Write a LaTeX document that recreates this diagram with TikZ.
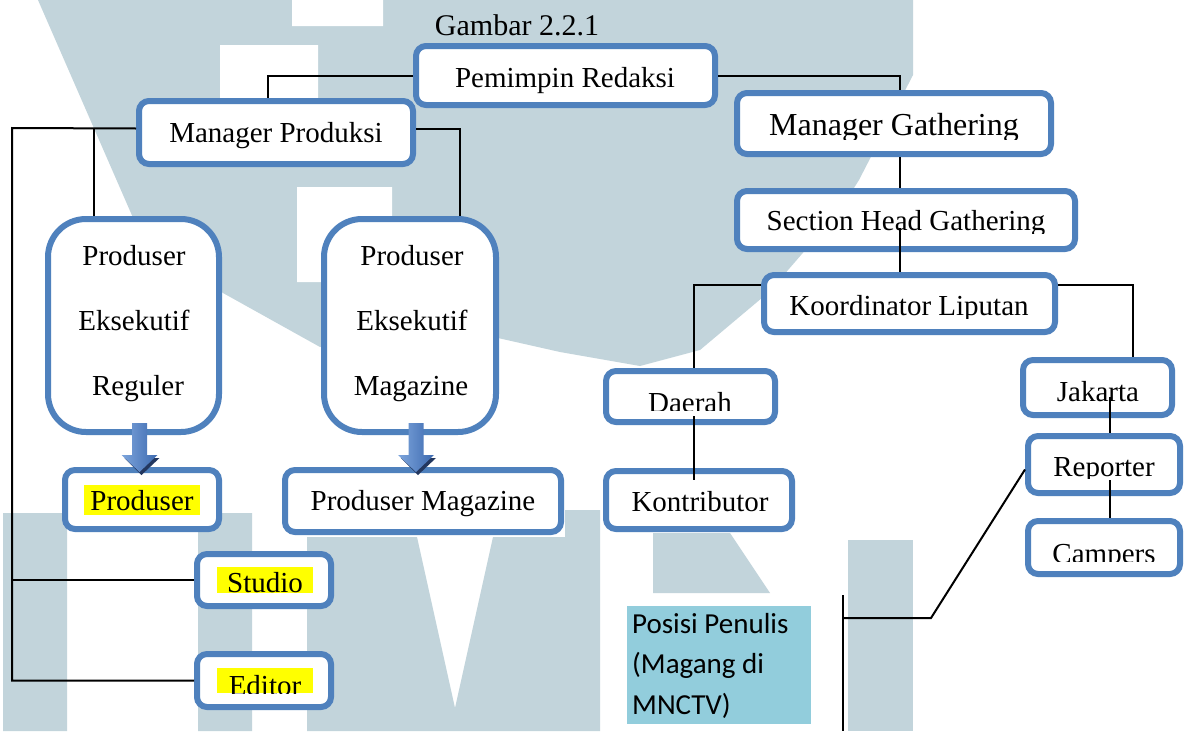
\documentclass[tikz,border=0pt]{standalone}
\usepackage{fontspec}
\setmainfont{Liberation Serif}
\newfontfamily\calibrifont{Carlito}
\usepackage{tikz}
\usetikzlibrary{calc}
\definecolor{BoxBlue}{HTML}{4F81BD}
\definecolor{WaterGray}{RGB}{194,212,219}
\definecolor{PosBlue}{HTML}{92CDDC}
\definecolor{HiYellow}{RGB}{255,255,0}
\definecolor{ArrowLight}{RGB}{125,165,220}
\definecolor{ArrowDark}{RGB}{60,105,175}
\definecolor{ArrowShadow}{RGB}{35,55,95}
\newcommand{\boxfont}{\fontsize{29}{35}\selectfont}
% label cut off below a given y
\newcommand{\cutlabel}[5][]{%
  \begin{scope}
    \clip (0,0) rectangle (1188,#4);
    \node[lbl,#1] (#2) at (#3) {#5};
  \end{scope}}
% shaded block arrow pointing down from a coordinate
\newcommand{\blockdown}[1]{%
  \fill[ArrowShadow] ($(#1)+(-15,35)$) -- ($(#1)+(2,52)$) -- ($(#1)+(20,35)$) -- cycle;
  \shade[left color=ArrowLight,right color=ArrowDark] ($(#1)+(-7.5,0)$) -- ($(#1)+(7.5,0)$)
    -- ($(#1)+(7.5,32)$) -- ($(#1)+(18,32)$) -- ($(#1)+(0,49)$) -- ($(#1)+(-18,32)$)
    -- ($(#1)+(-7.5,32)$) -- cycle;}
\tikzset{
  orgbox/.style={draw=BoxBlue,line width=6pt,fill=white,rounded corners=10pt,inner sep=0pt},
  tallbox/.style={orgbox,rounded corners=38pt},
  lbl/.style={anchor=base,inner sep=0pt,font=\boxfont},
  link/.style={line width=2pt},
}

\begin{document}
\begin{tikzpicture}[x=1pt,y=-1pt]
  \fill[white] (0,0) rectangle (1188,731);
  \useasboundingbox (0,0) rectangle (1188,731);
  % watermark
  \fill[WaterGray] (38,0) -- (913,0) -- (913,75) -- (859,180) -- (840,210) -- (769,292)
    -- (700,350) -- (640,366) -- (560,352) -- (498,338) -- (410,345) -- (320,347)
    -- (223,293) -- (134,220) -- cycle;
  \fill[white] (292,0) rectangle (383,26) (220,45) rectangle (318,120) (297,187) rectangle (392,282);
  \fill[WaterGray] (3,513) rectangle (67,731) (198,513) rectangle (252,731);
  \fill[WaterGray] (307,537) -- (417,537) -- (455,708) -- (493,537) -- (565,537) -- (565,510)
    -- (600,510) -- (600,731) -- (307,731) -- cycle;
  \fill[WaterGray] (653,533) -- (730,533) -- (770,593) -- (653,593) -- cycle;
  \fill[WaterGray] (848,540) rectangle (913,731);

  \node[lbl,font=\fontsize{30}{36}\selectfont] (judul) at (517,35) {Gambar 2.2.1};

  % boxes
  \node[orgbox,minimum width=299pt,minimum height=59pt] (pemimpin) at (565.5,75.5) {};
  \node[orgbox,minimum width=274pt,minimum height=63pt] (mgrprod) at (276,132.5) {};
  \node[orgbox,minimum width=314pt,minimum height=61pt] (mgrgath) at (894,123.5) {};
  \node[orgbox,minimum width=338pt,minimum height=58pt] (sechead) at (906,220) {};
  \node[orgbox,minimum width=291pt,minimum height=57pt] (koord) at (909.5,303.5) {};
  \node[tallbox,minimum width=171pt,minimum height=213pt] (pereg) at (133.5,325.5) {};
  \node[tallbox,minimum width=172pt,minimum height=213pt] (pemag) at (410,325.5) {};
  \node[orgbox,minimum width=154pt,minimum height=59pt] (produser) at (142,499.5) {};
  \node[orgbox,minimum width=276pt,minimum height=62pt] (prodmag) at (423,501) {};
  \node[orgbox,minimum width=169pt,minimum height=51pt] (daerah) at (690.5,396.5) {};
  \node[orgbox,minimum width=186pt,minimum height=58pt] (kontrib) at (699,500) {};
  \node[orgbox,minimum width=149pt,minimum height=55pt] (jakarta) at (1097.5,387.5) {};
  \node[orgbox,minimum width=152pt,minimum height=57pt] (reporter) at (1104,464.5) {};
  \node[orgbox,minimum width=152pt,minimum height=53pt] (campers) at (1104,547.5) {};
  \node[orgbox,minimum width=134pt,minimum height=52pt] (studio) at (264,580) {};
  \node[orgbox,minimum width=134pt,minimum height=53pt] (editor) at (264,680.5) {};
  \node[fill=PosBlue,minimum width=184pt,minimum height=118pt,inner sep=0pt] (posisi) at (719,665) {};

  % highlights
  \fill[HiYellow] (84,485) rectangle (200,515);
  \fill[HiYellow] (217,567) rectangle (313,593);
  \fill[HiYellow] (217,668) rectangle (313,693);

  % labels
  \node[lbl] (tpemimpin) at (565,87) {Pemimpin Redaksi};
  \node[lbl] (tmgrprod) at (276,142) {Manager Produksi};
  \cutlabel[font=\fontsize{32}{38}\selectfont]{tmgrgath}{894,135}{139}{Manager Gathering}
  \cutlabel{tsechead}{906,230}{233}{Section Head Gathering}
  \cutlabel{tkoord}{909,315}{318}{Koordinator Liputan}
  \node[lbl] (treg1) at (134,265) {Produser};
  \node[lbl] (treg2) at (134,330) {Eksekutif};
  \node[lbl] (treg3) at (138,395) {Reguler};
  \node[lbl] (tmag1) at (412,265) {Produser};
  \node[lbl] (tmag2) at (412,330) {Eksekutif};
  \node[lbl] (tmag3) at (411,395) {Magazine};
  \node[lbl] (tprodusen) at (142,510) {Produser};
  \node[lbl] (tprodmag) at (423,510) {Produser Magazine};
  \cutlabel{tdaerah}{690,412}{410}{Daerah}
  \node[lbl] (tkontrib) at (700,511) {Kontributor};
  \node[lbl] (tjakarta) at (1098,401) {Jakarta};
  \cutlabel{treporter}{1104,476}{478}{Reporter}
  \cutlabel{tcampers}{1104,563}{561}{Campers}
  \cutlabel{tstudio}{265,592}{593}{Studio}
  \cutlabel{teditor}{265,695}{693}{Editor}
  \node[anchor=base west,inner sep=0pt,font=\calibrifont\boxfont] (tpos1) at (632,633) {Posisi Penulis};
  \node[anchor=base west,inner sep=0pt,font=\calibrifont\boxfont] (tpos2) at (632,673) {(Magang di};
  \node[anchor=base west,inner sep=0pt,font=\calibrifont\boxfont] (tpos3) at (632,714) {MNCTV)};

  % connectors
  \coordinate (trunk) at (12,128);
  \draw[link] (pemimpin.west) -| ([xshift=-8pt]mgrprod.north);
  \draw[link] (pemimpin.east) -| ([xshift=6pt]mgrgath.north);
  \draw[link] ([yshift=4pt]mgrprod.west) -- (trunk) |- (editor.west);
  \draw[link] (studio.west) -- (studio.west -| trunk);
  \draw[link] ([xshift=-40pt]pereg.north) -- ([xshift=-40pt]pereg.north |- trunk);
  \draw[link] ([yshift=4pt]mgrprod.east) -| ([xshift=50pt]pemag.north);
  \draw[link] ([xshift=6pt]mgrgath.south) -- ([xshift=-6pt]sechead.north);
  \draw[link] ([xshift=-6pt,yshift=-8pt]sechead.center) -- ([xshift=-9.5pt]koord.north);
  \draw[link] ([yshift=18.5pt]koord.west) -| ([xshift=3.5pt]daerah.north);
  \draw[link] ([yshift=18.5pt]koord.east) -| ([xshift=35pt]jakarta.north);
  \draw[link] ([xshift=3.5pt,yshift=-19.5pt]daerah.center) -- ([xshift=-5pt,yshift=20pt]kontrib.center);
  \draw[link] ([xshift=12.5pt,yshift=-9.5pt]jakarta.center) -- ([xshift=6pt]reporter.north);
  \draw[link] ([xshift=6pt,yshift=-15.5pt]reporter.center) -- ([xshift=6pt]campers.north);
  \coordinate (penulistop) at (843,595);
  \coordinate (penulisbot) at (843,731);
  \coordinate (penuliselbow) at (931,618);
  \draw[link] (penulistop) -- (penulisbot);
  \draw[link] (penulistop |- penuliselbow) -- (penuliselbow) -- ([yshift=-5pt]reporter.west);

  % block arrows
  \coordinate (arrowreg) at ([xshift=6pt,yshift=12pt]pereg.south);
  \coordinate (arrowmag) at ([xshift=6pt,yshift=12pt]pemag.south);
  \blockdown{arrowreg}
  \blockdown{arrowmag}
\end{tikzpicture}
\end{document}
